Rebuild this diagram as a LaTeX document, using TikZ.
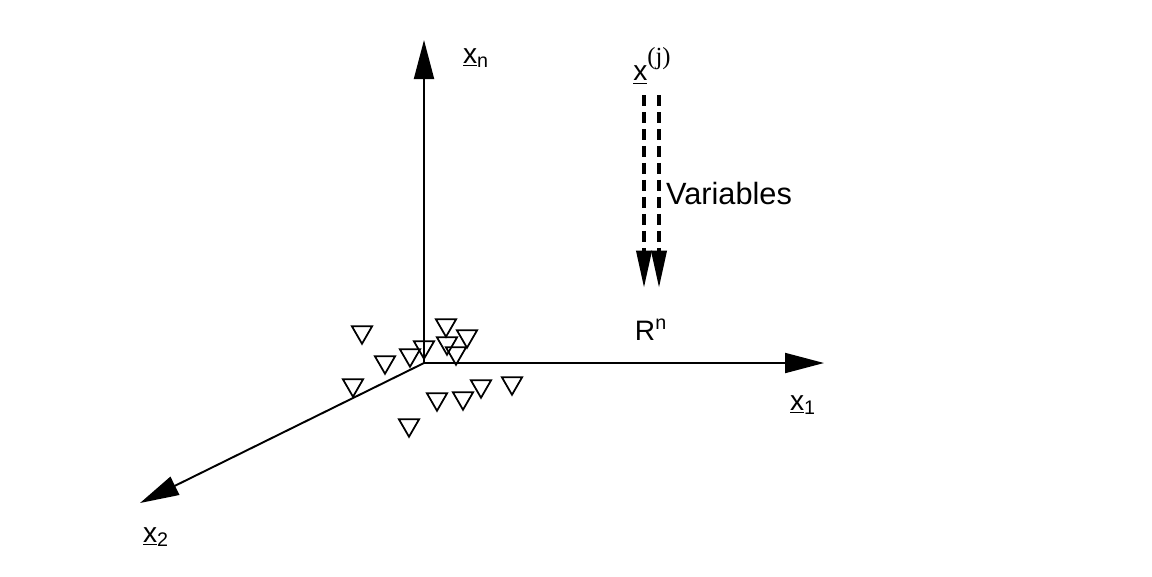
\documentclass[tikz,border=0pt]{standalone}
\usepackage{fontspec}
\setmainfont{Liberation Sans}
\newfontfamily\serifj{Liberation Serif}
\usetikzlibrary{arrows.meta,shapes.geometric}
\begin{document}
\begin{tikzpicture}[x=0.02cm,y=-0.02cm,
  axis/.style={line width=1.1pt,-{Triangle[length=0.78cm,width=0.4cm]}},
  vararrow/.style={line width=2.2pt,dash pattern=on 0.22cm off 0.12cm,-{Triangle[length=0.75cm,width=0.3cm]}},
  lab/.style={font=\fontsize{16}{19}\selectfont,inner sep=0pt},
  pt/.style={draw,line width=1pt,regular polygon,regular polygon sides=3,shape border rotate=180,minimum size=0.47cm,inner sep=0pt}]
\useasboundingbox (0,0) rectangle (1152,576);
\coordinate (O) at (424,363);
\coordinate (Xn) at (424,40);
\coordinate (X1) at (824,363);
\coordinate (X2) at (140,503);
\draw[axis] (O) -- (Xn);
\draw[axis] (O) -- (X1);
\draw[axis] (O) -- (X2);
\node[lab] (lxn) at (476,58) {\underline{x}\textsubscript{n}};
\node[lab] (lx1) at (803,405) {\underline{x}\textsubscript{1}};
\node[lab] (lx2) at (156,537) {\underline{x}\textsubscript{2}};
\node[lab] (lxj) at (652,66) {\underline{x}\raisebox{1.1ex}{\serifj\fontsize{14}{16}\selectfont(j)}};
\node[lab] (lrn) at (651,330) {R\textsuperscript{n}};
\node[lab,font=\fontsize{17.5}{20}\selectfont] (lvar) at (729,194) {Variables};
\coordinate (a1s) at (644,95);
\coordinate (a1e) at (644,288);
\coordinate (a2s) at (659,95);
\coordinate (a2e) at (659,288);
\draw[vararrow] (a1s) -- (a1e);
\draw[vararrow] (a2s) -- (a2e);
\foreach \i/\x/\y in {1/362/332,2/446/325,3/467/336,4/447/343,5/456/353,6/424/347,7/410/355,8/385/362,9/353/385,10/481/386,11/512/383,12/463/398,13/437/399,14/409/425}
  \node[pt] (t\i) at (\x,\y) {};
\end{tikzpicture}
\end{document}
